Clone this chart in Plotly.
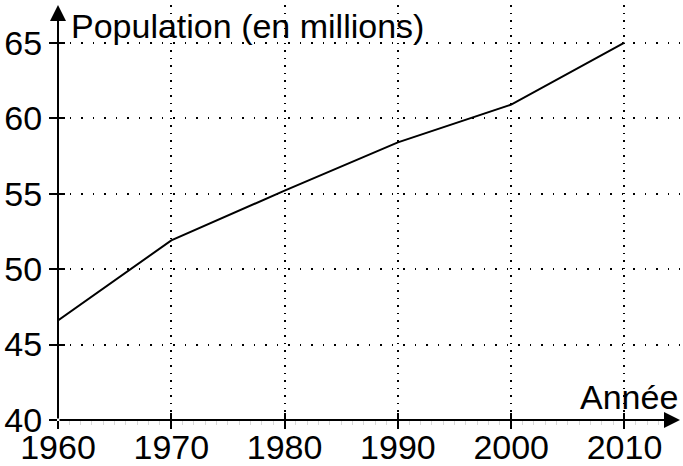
import plotly.graph_objects as go

years = [1960, 1970, 1980, 1990, 2000, 2010]
population = [46.6, 51.9, 55.2, 58.4, 60.9, 65.0]
x_ticks = [1960, 1970, 1980, 1990, 2000, 2010]
y_ticks = [40, 45, 50, 55, 60, 65]
x_title = "Année"
y_title = "Population (en millions)"

X_MAX = 2014.9
Y_MAX = 67.5
FONT = "Liberation Sans"
FS = 34

fig = go.Figure()
fig.add_trace(go.Scatter(x=years, y=population, mode="lines",
                         line=dict(color="black", width=2), showlegend=False,
                         hoverinfo="skip"))
# invisible trace to carry the inner tick axes
fig.add_trace(go.Scatter(x=[years[0]], y=[population[0]], xaxis="x2", yaxis="y2",
                         mode="markers", marker=dict(opacity=0), showlegend=False,
                         hoverinfo="skip"))

common_x = dict(range=[1960, X_MAX], tickvals=x_ticks, zeroline=False, fixedrange=True,
                automargin=False)
common_y = dict(range=[40, Y_MAX], tickvals=y_ticks, zeroline=False, fixedrange=True,
                automargin=False)

fig.update_layout(
    width=683, height=466,
    margin=dict(l=58, r=3, t=5, b=46),
    paper_bgcolor="white", plot_bgcolor="white",
    font=dict(family=FONT, size=FS, color="black"),
    xaxis=dict(**common_x, showgrid=True, gridcolor="black", gridwidth=1.5,
               griddash="1.5px,6px", ticks="outside", ticklen=8, tickwidth=1.5,
               tickcolor="black", showline=False, ticklabelstandoff=-11,
               tickfont=dict(family=FONT, size=FS, color="black"),
               minor=dict(dtick=1, ticks="outside", ticklen=4, tickcolor="#d8d8d8",
                          tickwidth=1, showgrid=False)),
    yaxis=dict(**common_y, showgrid=True, gridcolor="black", gridwidth=1.5,
               griddash="1.5px,10px", ticks="outside", ticklen=8, tickwidth=1.5,
               tickcolor="black", showline=False,
               tickfont=dict(family=FONT, size=FS, color="black")),
    xaxis2=dict(**common_x, overlaying="x", anchor="y2", side="bottom", showgrid=False,
                ticks="inside", ticklen=7, tickwidth=1.5, tickcolor="black",
                showticklabels=False),
    yaxis2=dict(**common_y, overlaying="y", anchor="x2", side="left", showgrid=False,
                ticks="inside", ticklen=7, tickwidth=1.5, tickcolor="black",
                showticklabels=False),
    annotations=[
        # x axis with arrow
        dict(x=X_MAX, y=40, ax=1960, ay=40, xref="x", yref="y", axref="x", ayref="y",
             text="", showarrow=True, arrowhead=2, arrowsize=1.6, arrowwidth=2,
             arrowcolor="black"),
        # y axis with arrow
        dict(x=1960, y=Y_MAX, ax=1960, ay=40, xref="x", yref="y", axref="x", ayref="y",
             text="", showarrow=True, arrowhead=2, arrowsize=1.6, arrowwidth=2,
             arrowcolor="black"),
        dict(x=1961, y=Y_MAX - 1.4, xref="x", yref="y", xanchor="left", yanchor="middle",
             text=y_title, showarrow=False, font=dict(family=FONT, size=FS, color="black")),
        dict(x=X_MAX, y=41.5, xref="x", yref="y", xanchor="right", yanchor="middle",
             text=x_title, showarrow=False, font=dict(family=FONT, size=FS, color="black")),
    ],
)

fig.write_html("out.html", config={"displayModeBar": False},
               post_script="document.body.style.margin='0';")
